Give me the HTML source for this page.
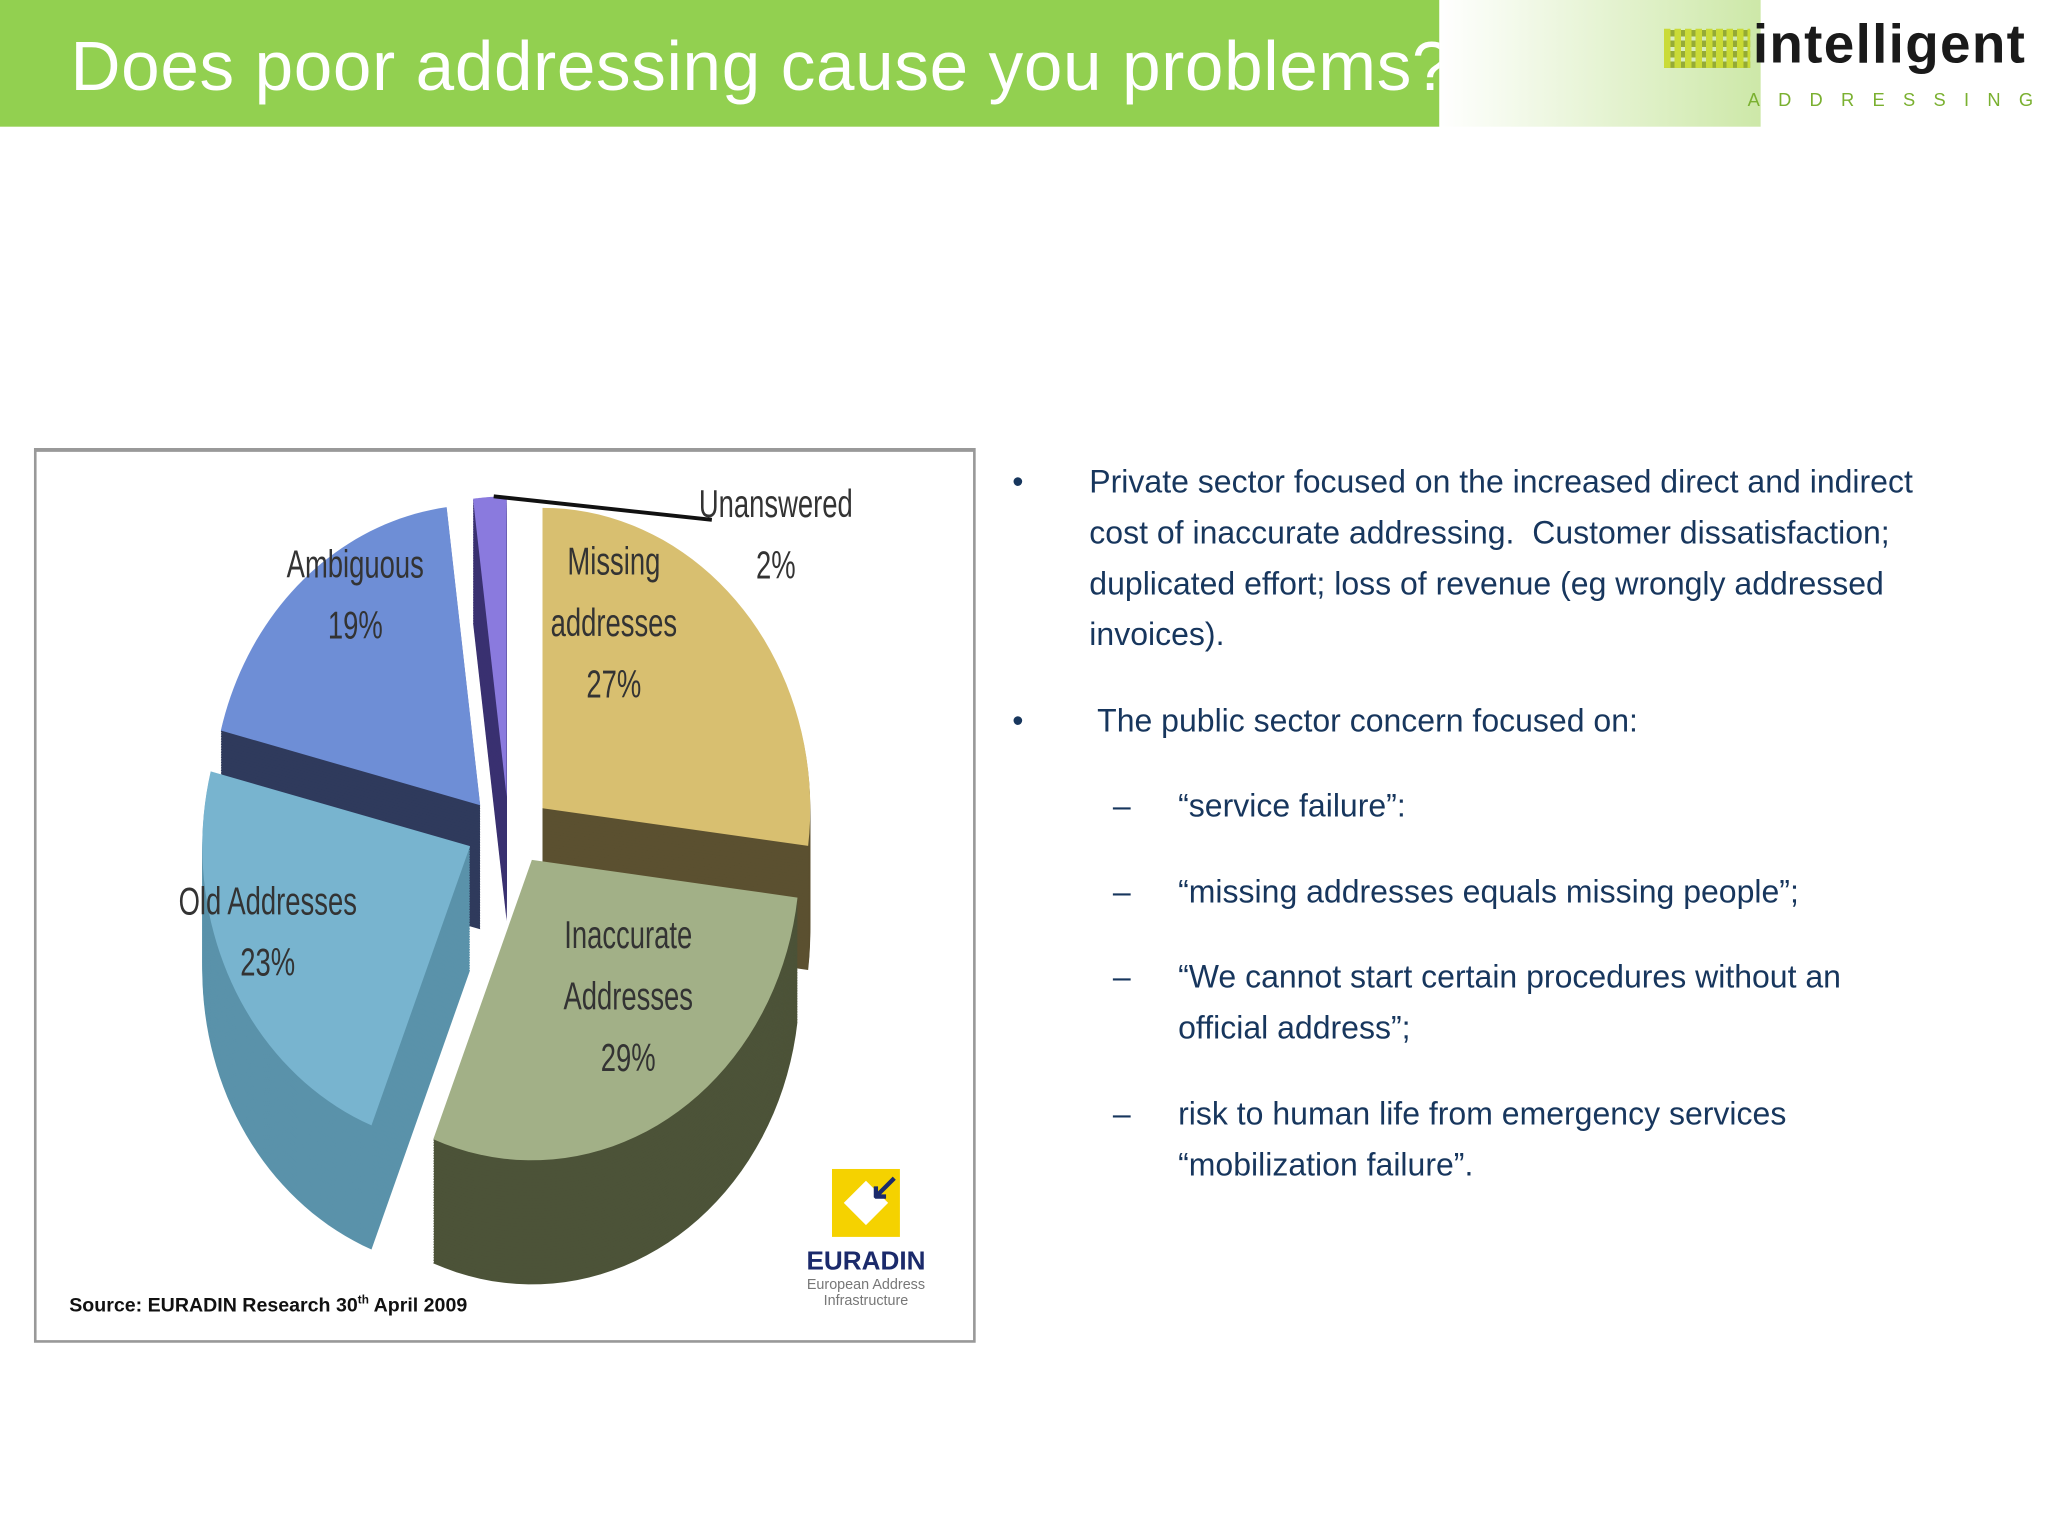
<!DOCTYPE html>
<html><head><meta charset="utf-8">
<style>
html,body{margin:0;padding:0;background:#fff;overflow:hidden}
#page{position:absolute;left:0;top:0;width:1568px;height:1176px;transform:scale(1.30612);transform-origin:0 0;font-family:"Liberation Sans",sans-serif}
.abs{position:absolute}
.bul{position:absolute;color:#17365d;font-size:24.5px;line-height:39px}
</style></head><body>
<div id="page">
<div class="abs" style="left:0;top:0;width:1102px;height:97px;background:#92d050"></div>
<div class="abs" style="left:1102px;top:0;width:246px;height:97px;background:linear-gradient(90deg,#fff,#cde8a8)"></div>
<div class="abs" style="left:54px;top:21px;color:#fff;font-size:53px;letter-spacing:0.5px;white-space:nowrap;width:1048px;overflow:hidden">Does poor addressing cause you problems?</div>
<div class="abs" style="left:1272px;top:10px;width:290px;height:80px">
 <div class="abs" style="left:2px;top:12px;width:66px;height:30px;background:repeating-linear-gradient(90deg,#c8d820 0 5px,transparent 5px 8px),repeating-linear-gradient(0deg,#8aa020 0 5px,transparent 5px 8px);opacity:.85"></div>
 <div class="abs" style="left:70px;top:0;font-size:42px;color:#1a1a1a;font-weight:bold;letter-spacing:1px">intelligent</div>
 <div class="abs" style="left:66px;top:58px;font-size:14px;color:#7ab030;letter-spacing:14px">ADDRESSING</div>
</div>

<div class="abs" style="left:26px;top:343px;width:721px;height:685px;border:2px solid #999;border-top:3px solid #999;box-sizing:border-box"></div>
<svg class="abs" style="left:0;top:0" width="1568" height="1176">
<g id="pie"></g>
<g id="labels" font-family="'Liberation Sans',sans-serif" font-size="30" fill="#333" text-anchor="middle"></g>
<line x1="378" y1="380" x2="545" y2="398" stroke="#111" stroke-width="3"/>
</svg>
<div class="abs" style="left:53px;top:990px;font-size:15px;font-weight:bold;color:#111">Source: EURADIN Research 30<sup style="font-size:9px">th</sup> April 2009</div>
<div class="abs" style="left:608px;top:895px;width:110px;text-align:center">
 <div style="margin:0 auto;width:52px;height:52px;background:#f5d200;position:relative"><div style="position:absolute;left:14px;top:14px;width:24px;height:24px;background:#fff;transform:rotate(45deg)"></div><div style="position:absolute;right:0;top:0;color:#1b2a6b;font-size:28px;font-weight:bold;line-height:28px">↙</div></div>
 <div style="color:#1b2a6b;font-weight:bold;font-size:20px;margin-top:8px">EURADIN</div>
 <div style="color:#777;font-size:11px;line-height:12px">European Address<br>Infrastructure</div>
</div>

<div class="bul" style="left:775px;top:350px">•</div>
<div class="bul" style="left:834px;top:350px;width:672px">Private sector focused on the increased direct and indirect cost of inaccurate addressing.&nbsp; Customer dissatisfaction; duplicated effort; loss of revenue (eg wrongly addressed invoices).</div>
<div class="bul" style="left:775px;top:533px">•</div>
<div class="bul" style="left:840px;top:533px">The public sector concern focused on:</div>
<div class="bul" style="left:852px;top:598px">–</div>
<div class="bul" style="left:902px;top:598px">“service failure”:</div>
<div class="bul" style="left:852px;top:664px">–</div>
<div class="bul" style="left:902px;top:664px;white-space:nowrap">“missing addresses equals missing people”;</div>
<div class="bul" style="left:852px;top:729px">–</div>
<div class="bul" style="left:902px;top:729px;width:560px">“We cannot start certain procedures without an official address”;</div>
<div class="bul" style="left:852px;top:834px">–</div>
<div class="bul" style="left:902px;top:834px;width:520px">risk to human life from emergency services “mobilization failure”.</div>
</div>
<script>
const categories=["Missing addresses","Inaccurate Addresses","Old Addresses","Ambiguous","Unanswered"];
const values=[27,29,23,19,2];
const topColors=["#d8bf70","#a2b087","#78b4cf","#6e8ed6","#8a7ade"];
const sideColors=["#5b5030","#4c5338","#5a92aa","#2f3a5c","#3a3070"];
const labelLines=[["Missing","addresses","27%"],["Inaccurate","Addresses","29%"],["Old Addresses","23%"],["Ambiguous","19%"],["Unanswered","2%"]];
const labelPos=[[470,440],[481,726],[205,700],[272,442],[594,396]];
const cx=390,cy=636,rx=205,ry=230,depth=95,explode=26;
const NS="http://www.w3.org/2000/svg";
const total=values.reduce((a,b)=>a+b,0);
let ang=-Math.PI/2;
const slices=values.map((v,i)=>{const a0=ang,a1=ang+v/total*2*Math.PI;ang=a1;return {i,a0,a1,m:(a0+a1)/2};});
function path(s,dy){const ox=Math.cos(s.m)*explode*1.3,oy=Math.sin(s.m)*explode;
 let d=`M${cx+ox},${cy+oy+dy}`;const n=40;
 for(let k=0;k<=n;k++){const t=s.a0+(s.a1-s.a0)*k/n;d+=`L${cx+ox+rx*Math.cos(t)},${cy+oy+dy+ry*Math.sin(t)}`;}
 return d+"Z";}
const g=document.getElementById('pie');
const order=slices.slice().sort((a,b)=>Math.sin(a.m)-Math.sin(b.m));
order.forEach(s=>{
 const grp=document.createElementNS(NS,'g');
 
 
 for(let dy=depth;dy>0;dy-=2){const p=document.createElementNS(NS,'path');p.setAttribute('d',path(s,dy));p.setAttribute('fill',sideColors[s.i]);grp.appendChild(p);}
 const p=document.createElementNS(NS,'path');p.setAttribute('d',path(s,0));p.setAttribute('fill',topColors[s.i]);grp.appendChild(p);
 g.appendChild(grp);
});
const lg=document.getElementById('labels');
slices.forEach(s=>{
 const lx=labelPos[s.i][0],ly=labelPos[s.i][1];
 labelLines[s.i].forEach((t,k)=>{const tx=document.createElementNS(NS,'text');
  
  
  tx.setAttribute('transform',`translate(${lx},${ly+k*47}) scale(0.7,1)`);
  tx.setAttribute('x',0);tx.setAttribute('y',0);tx.textContent=t;lg.appendChild(tx);});
});
</script>
</body></html>
